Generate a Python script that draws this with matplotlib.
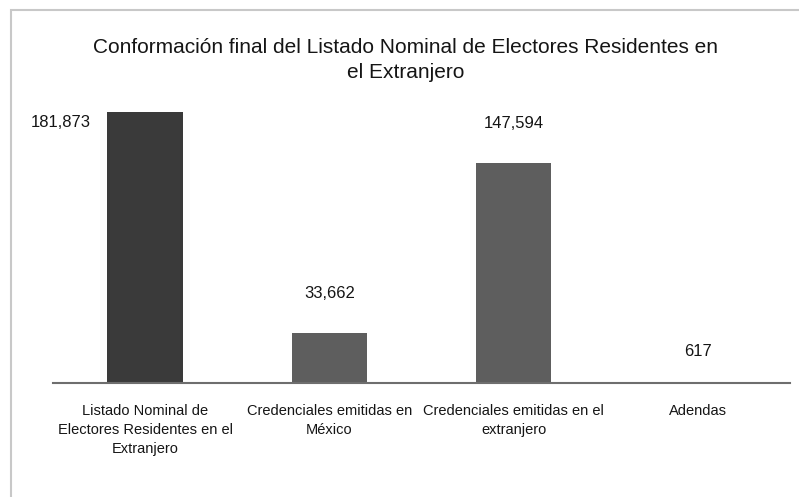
import matplotlib

matplotlib.use("Agg")
import matplotlib.pyplot as plt
from matplotlib.patches import Rectangle

plt.rcParams["font.family"] = ["Liberation Sans Narrow", "Liberation Sans", "DejaVu Sans"]

# datos del gráfico
categorias = [
    "Listado Nominal de\nElectores Residentes en el\nExtranjero",
    "Credenciales emitidas en\nMéxico",
    "Credenciales emitidas en el\nextranjero",
    "Adendas",
]
valores = [181873, 33662, 147594, 617]
colores = ["#3a3a3a", "#5e5e5e", "#5e5e5e", "#5e5e5e"]
titulo = "Conformación final del Listado Nominal de Electores Residentes en\nel Extranjero"

W, H = 799, 497
fig = plt.figure(figsize=(W / 100, H / 100), dpi=100)
fig.patch.set_facecolor("white")

# marco gris claro alrededor del gráfico
fig.add_artist(Rectangle((11 / W, -0.05), 1.0, 1.05 - 10 / H, transform=fig.transFigure,
                         fill=False, edgecolor="#c8c8c8", linewidth=1.5))

ax = fig.add_axes([53 / W, 114 / H, 737 / W, 298 / H])
x = range(len(valores))
ax.bar(x, valores, width=0.41, color=colores, zorder=2)
ax.set_xlim(-0.5, 3.5)
ax.set_ylim(0, 200000)

# desplazamiento vertical de cada etiqueta (puntos)
desplaz = [0, 28.5, 28.5, 22]
for i, v in enumerate(valores):
    txt = f"{v:,}"
    if i == 0:
        # la etiqueta de la barra mayor va a la izquierda
        ax.annotate(txt, (i - 0.205, v), xytext=(-12, -7.5), textcoords="offset points",
                    ha="right", va="center", fontsize=12, color="#151515")
    else:
        ax.annotate(txt, (i, v), xytext=(0, desplaz[i]), textcoords="offset points",
                    ha="center", va="center", fontsize=12, color="#151515")

ax.set_xticks(list(x))
ax.set_xticklabels(categorias, fontsize=10.5, color="#151515", linespacing=1.45)
ax.tick_params(axis="x", length=0, pad=15)
ax.set_yticks([])
for s in ["top", "right", "left"]:
    ax.spines[s].set_visible(False)
ax.spines["bottom"].set_color("#6e6e6e")
ax.spines["bottom"].set_linewidth(1.5)

fig.text(0.508, 1 - 60 / H, titulo, ha="center", va="center", fontsize=15,
         color="#151515", linespacing=1.45)

fig.savefig("out.png", dpi=100)
